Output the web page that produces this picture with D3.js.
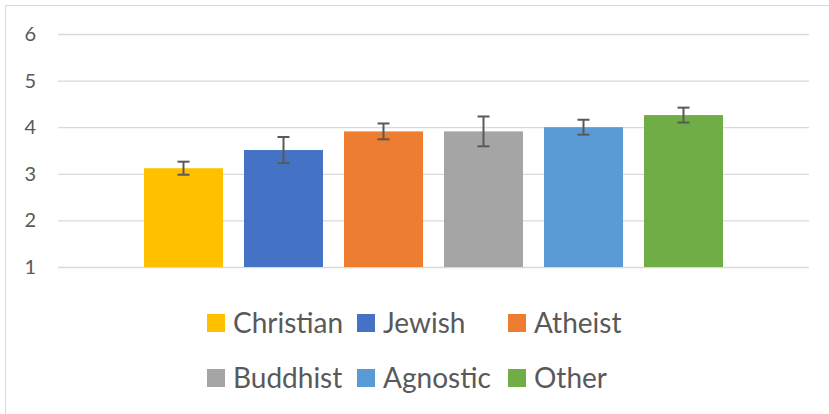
<!DOCTYPE html>
<html>
<head>
<meta charset="utf-8">
<script src="https://cdn.jsdelivr.net/npm/d3@7"></script>
<style>
  body { margin: 0; background: #fff; }
  svg { display: block; font-family: Lato, "Open Sans", sans-serif; }
</style>
</head>
<body>
<svg id="chart" width="829" height="414"></svg>
<script>
const series = ["Christian", "Jewish", "Atheist", "Buddhist", "Agnostic", "Other"];
const means = [3.12, 3.51, 3.91, 3.91, 4.0, 4.26];
const errors = [0.14, 0.28, 0.17, 0.32, 0.16, 0.16];
const colors = ["#ffc000", "#4472c4", "#ed7d31", "#a5a5a5", "#5b9bd5", "#70ad47"];
const yTicks = [1, 2, 3, 4, 5, 6];

const width = 829;
const height = 414;
const plot = { left: 58, right: 809, top: 34, bottom: 267 };
const textColor = "#595959";

const svg = d3.select("#chart");

// chart area border
svg.append("rect")
  .attr("x", 5.5)
  .attr("y", 5.5)
  .attr("width", width)
  .attr("height", height)
  .attr("fill", "none")
  .attr("stroke", "#d9d9d9");

const y = d3.scaleLinear()
  .domain([1, 6])
  .range([plot.bottom, plot.top]);

// single category cluster centred in the plot
const plotWidth = plot.right - plot.left;
const clusterWidth = plotWidth * 600 / 751;
const clusterLeft = plot.left + (plotWidth - clusterWidth) / 2;
const x = d3.scaleBand()
  .domain(series)
  .range([clusterLeft, clusterLeft + clusterWidth])
  .paddingInner(0.21)
  .paddingOuter(0.105);

const yAxis = d3.axisLeft(y)
  .tickValues(yTicks)
  .tickSize(-(plot.right - plot.left))
  .tickPadding(22)
  .tickFormat(d3.format("d"));

const axisG = svg.append("g")
  .attr("transform", `translate(${plot.left},0)`)
  .call(yAxis);

axisG.select(".domain").remove();
axisG.selectAll(".tick line")
  .attr("stroke", "#d9d9d9")
  .attr("stroke-width", 1.3);
axisG.selectAll(".tick text")
  .attr("fill", textColor)
  .attr("font-size", 20)
  .attr("font-family", "Lato, sans-serif");

const data = series.map((name, i) => ({
  name,
  mean: means[i],
  error: errors[i],
  color: colors[i],
}));

svg.append("g")
  .selectAll("rect")
  .data(data)
  .join("rect")
  .attr("x", (d) => x(d.name))
  .attr("y", (d) => y(d.mean))
  .attr("width", x.bandwidth())
  .attr("height", (d) => y(1) - y(d.mean))
  .attr("fill", (d) => d.color);

// error bars
const errG = svg.append("g")
  .attr("stroke", "#595959")
  .attr("stroke-width", 2);

const capHalf = 6;
const errBars = errG.selectAll("g")
  .data(data)
  .join("g")
  .attr("transform", (d) => `translate(${x(d.name) + x.bandwidth() / 2},0)`);

errBars.append("line")
  .attr("y1", (d) => y(d.mean + d.error))
  .attr("y2", (d) => y(d.mean - d.error));
errBars.append("line")
  .attr("x1", -capHalf)
  .attr("x2", capHalf)
  .attr("y1", (d) => y(d.mean + d.error))
  .attr("y2", (d) => y(d.mean + d.error));
errBars.append("line")
  .attr("x1", -capHalf)
  .attr("x2", capHalf)
  .attr("y1", (d) => y(d.mean - d.error))
  .attr("y2", (d) => y(d.mean - d.error));

// legend, 3 columns x 2 rows
const legendCols = [207, 357, 508];
const legendRows = [323, 378];
const swatch = 18;

const legend = svg.append("g")
  .selectAll("g")
  .data(data)
  .join("g")
  .attr("transform", (d, i) =>
    `translate(${legendCols[i % 3]},${legendRows[Math.floor(i / 3)]})`);

legend.append("rect")
  .attr("y", -swatch / 2)
  .attr("width", swatch)
  .attr("height", swatch)
  .attr("fill", (d) => d.color);

legend.append("text")
  .attr("x", 26)
  .attr("dy", "0.36em")
  .attr("fill", textColor)
  .attr("font-size", 28)
  .text((d) => d.name);
</script>
</body>
</html>
